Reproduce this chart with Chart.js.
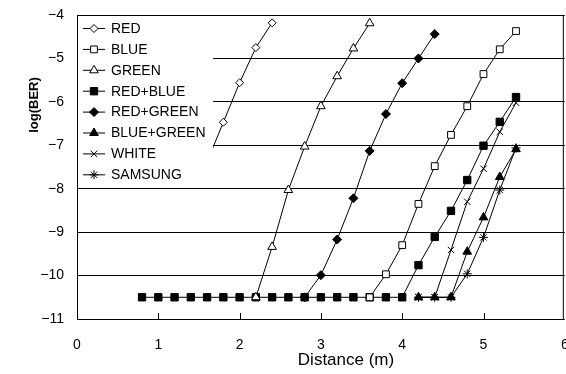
<!DOCTYPE html>
<html>
<head>
<meta charset="utf-8">
<script src="https://cdn.jsdelivr.net/npm/chart.js@4"></script>
<style>
  html, body { margin: 0; padding: 0; background: #fff; overflow: hidden; }
  canvas { display: block; }
</style>
</head>
<body>
<canvas id="ber" width="571" height="374"></canvas>
<script>
// series values (distance in m, log(BER))
const seriesNames = ['RED', 'BLUE', 'GREEN', 'RED+BLUE', 'RED+GREEN', 'BLUE+GREEN', 'WHITE', 'SAMSUNG'];

const redX = [1.6, 1.8, 2.0, 2.2, 2.4];
const redY = [-7.38, -6.47, -5.56, -4.75, -4.18];

const blueX = [3.6, 3.8, 4.0, 4.2, 4.4, 4.6, 4.8, 5.0, 5.2, 5.4];
const blueY = [-10.5, -9.97, -9.30, -8.35, -7.48, -6.76, -6.10, -5.36, -4.79, -4.37];

const greenX = [2.2, 2.4, 2.6, 2.8, 3.0, 3.2, 3.4, 3.6];
const greenY = [-10.5, -9.34, -8.03, -7.03, -6.10, -5.41, -4.77, -4.19];

const redBlueX = [0.8, 1.0, 1.2, 1.4, 1.6, 1.8, 2.0, 2.2, 2.4, 2.6, 2.8, 3.0, 3.2, 3.4, 3.6, 3.8, 4.0, 4.2, 4.4, 4.6, 4.8, 5.0, 5.2, 5.4];
const redBlueY = [-10.5, -10.5, -10.5, -10.5, -10.5, -10.5, -10.5, -10.5, -10.5, -10.5, -10.5, -10.5, -10.5, -10.5, -10.5, -10.5, -10.5, -9.76, -9.11, -8.51, -7.80, -7.01, -6.46, -5.89];

const redGreenX = [2.8, 3.0, 3.2, 3.4, 3.6, 3.8, 4.0, 4.2, 4.4];
const redGreenY = [-10.5, -9.99, -9.17, -8.22, -7.13, -6.28, -5.57, -5.0, -4.44];

const blueGreenX = [4.2, 4.4, 4.6, 4.8, 5.0, 5.2, 5.4];
const blueGreenY = [-10.5, -10.5, -10.5, -9.45, -8.66, -7.73, -7.09];

const whiteX = [4.2, 4.4, 4.6, 4.8, 5.0, 5.2, 5.4];
const whiteY = [-10.5, -10.5, -9.41, -8.30, -7.54, -6.69, -6.02];

const samsungX = [4.2, 4.4, 4.6, 4.8, 5.0, 5.2, 5.4];
const samsungY = [-10.5, -10.5, -10.5, -9.96, -9.12, -8.03, -7.06];

const xTicks = [0, 1, 2, 3, 4, 5, 6];
const yTicks = [-11, -10, -9, -8, -7, -6, -5, -4];

const xs = [redX, blueX, greenX, redBlueX, redGreenX, blueGreenX, whiteX, samsungX];
const ys = [redY, blueY, greenY, redBlueY, redGreenY, blueGreenY, whiteY, samsungY];

// marker look per series
const markers = [
  { style: 'rectRot', r: 4, fill: '#fff' },
  { style: 'rect', r: 4.8, fill: '#fff' },
  { style: 'triangle', r: 5, fill: '#fff' },
  { style: 'rect', r: 5.2, fill: '#000' },
  { style: 'rectRot', r: 4.5, fill: '#000' },
  { style: 'triangle', r: 5, fill: '#000' },
  { style: 'crossRot', r: 4.5, fill: '#000' },
  { style: 'star', r: 4.5, fill: '#000' }
];

Chart.defaults.font.family = 'Arial, "Liberation Sans", sans-serif';
Chart.defaults.color = '#000';

const datasets = seriesNames.map((name, i) => ({
  label: name,
  data: xs[i].map((x, k) => ({ x: x, y: ys[i][k] })),
  borderColor: '#000',
  borderWidth: 1,
  pointStyle: markers[i].style,
  pointRadius: markers[i].r,
  pointBackgroundColor: markers[i].fill,
  pointBorderColor: '#000',
  pointBorderWidth: 1,
  fill: false,
  tension: 0
}));

// scales reserve no extra room for their end labels
const zeroPad = s => { s.paddingLeft = 0; s.paddingRight = 0; s.paddingTop = 0; s.paddingBottom = 0; };

// legend box drawn inside the plot, over the data, plus frame, inner ticks and axis titles
const decor = {
  id: 'decor',
  afterDatasetsDraw(chart) {
    const ctx = chart.ctx;
    const area = chart.chartArea;
    const xs = chart.scales.x;
    ctx.save();
    // legend
    ctx.fillStyle = '#fff';
    ctx.fillRect(area.left + 1, area.top + 1, 135, 170);
    ctx.font = '14px Arial, "Liberation Sans", sans-serif';
    ctx.textBaseline = 'middle';
    ctx.textAlign = 'left';
    seriesNames.forEach((name, i) => {
      const y = area.top + 13.5 + i * 20.9;
      ctx.strokeStyle = '#000';
      ctx.lineWidth = 1;
      ctx.beginPath();
      ctx.moveTo(area.left + 6, y);
      ctx.lineTo(area.left + 28, y);
      ctx.stroke();
      if (Chart.helpers && Chart.helpers.drawPoint) {
        ctx.fillStyle = markers[i].fill;
        Chart.helpers.drawPoint(ctx, { pointStyle: markers[i].style, radius: markers[i].r, rotation: 0, borderWidth: 1 }, area.left + 17, y);
      }
      ctx.fillStyle = '#000';
      ctx.fillText(name, area.left + 34, y + 0.5);
    });
    // frame
    ctx.strokeStyle = '#000';
    ctx.lineWidth = 1;
    ctx.strokeRect(area.left + 0.5, area.top + 0.5, area.right - area.left - 2, area.bottom - area.top);
    // inward x ticks
    xTicks.forEach(v => {
      if (v <= xs.min || v >= xs.max) return;
      const px = Math.round(xs.getPixelForValue(v)) + 0.5;
      ctx.beginPath();
      ctx.moveTo(px, area.bottom);
      ctx.lineTo(px, area.bottom - 6);
      ctx.stroke();
    });
    // axis titles
    ctx.fillStyle = '#000';
    ctx.textAlign = 'center';
    ctx.font = '17px Arial, "Liberation Sans", sans-serif';
    ctx.fillText('Distance (m)', 346, 360);
    ctx.translate(34, 105);
    ctx.rotate(-Math.PI / 2);
    ctx.font = 'bold 13px Arial, "Liberation Sans", sans-serif';
    ctx.fillText('log(BER)', 0, 0);
    ctx.restore();
  }
};

new Chart(document.getElementById('ber'), {
  type: 'line',
  data: { datasets: datasets },
  options: {
    responsive: false,
    animation: false,
    layout: { padding: { top: 15, right: 0, left: 0, bottom: 0 } },
    plugins: { legend: { display: false }, tooltip: { enabled: false } },
    scales: {
      x: {
        type: 'linear',
        min: 0,
        max: 6,
        afterBuildTicks: s => { s.ticks = xTicks.map(v => ({ value: v })); },
        afterFit: s => { zeroPad(s); s.height = 55; },
        grid: { display: false },
        border: { display: false },
        ticks: { font: { size: 14 }, padding: 10, maxRotation: 0 }
      },
      y: {
        min: -11,
        max: -4,
        afterBuildTicks: s => { s.ticks = yTicks.map(v => ({ value: v })); },
        afterFit: s => { zeroPad(s); s.width = 77; },
        grid: { color: '#000', lineWidth: 1, drawTicks: false },
        border: { display: false },
        ticks: {
          font: { size: 14 },
          padding: 13,
          callback: v => String(v).replace('-', '\u2212')
        }
      }
    }
  },
  plugins: [decor]
});
</script>
</body>
</html>
